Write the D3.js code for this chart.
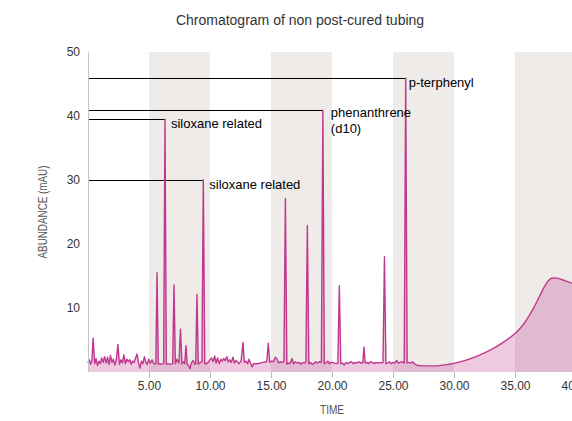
<!DOCTYPE html>
<html>
<head>
<meta charset="utf-8">
<script src="https://cdn.jsdelivr.net/npm/d3@7"></script>
<style>
  body { margin: 0; background: #fff; overflow: hidden; }
  text { font-family: "Liberation Sans", Arial, sans-serif; }
</style>
</head>
<body>
<script>
// retention time (min) and abundance (mAU)
const signal = [
  [0.00,1.4],[0.10,1.9],[0.22,1.2],[0.32,1.8],[0.42,5.3],[0.55,1.3],[0.66,2.1],[0.78,1.0],
  [0.90,1.7],[1.02,1.3],[1.12,2.2],[1.24,1.5],[1.36,2.4],[1.48,1.4],[1.60,2.3],[1.72,1.2],
  [1.84,2.6],[1.96,1.5],[2.08,2.0],[2.20,1.1],[2.32,1.9],[2.45,4.3],[2.58,1.2],[2.70,1.9],
  [2.82,1.4],[2.94,2.7],[3.06,1.3],[3.18,2.0],[3.30,1.6],[3.42,1.9],[3.54,1.2],[3.66,1.7],
  [3.78,1.5],[3.90,2.2],[4.02,2.8],[4.14,1.5],[4.26,0.6],[4.38,1.7],[4.50,1.3],[4.62,2.4],
  [4.74,1.5],[4.86,1.2],[4.98,2.0],[5.10,1.4],[5.25,1.9],[5.40,1.3],
  [5.56,1.3],[5.66,15.5],[5.76,1.2],[5.90,1.3],[6.05,1.2],[6.20,1.3],
  [6.31,39.5],[6.42,1.2],[6.55,1.3],[6.75,1.2],[6.94,1.3],
  [7.05,13.6],[7.16,1.3],[7.30,2.0],[7.46,1.4],
  [7.58,6.7],[7.70,1.3],[7.85,1.6],[7.93,1.3],
  [8.03,4.1],[8.13,1.2],[8.25,1.0],[8.35,0.5],[8.45,1.3],[8.62,1.8],[8.75,1.2],[8.83,1.3],
  [8.93,12.1],[9.04,1.2],[9.20,1.5],[9.34,1.6],
  [9.45,30.0],[9.57,1.3],[9.70,1.3],[9.85,1.5],
  [10.00,1.9],[10.12,2.2],[10.25,1.6],[10.38,2.5],[10.50,1.4],[10.62,2.2],[10.75,1.3],[10.88,2.0],
  [11.00,1.7],[11.12,2.1],[11.25,1.8],[11.38,2.4],[11.50,1.6],[11.62,1.9],[11.75,1.5],[11.88,2.3],
  [12.00,1.4],[12.12,1.8],[12.25,1.6],[12.38,1.3],[12.55,1.7],[12.70,4.6],[12.82,1.5],[12.95,1.7],
  [13.08,1.3],[13.20,2.0],[13.32,1.4],[13.45,0.8],[13.58,1.3],[13.75,1.3],[13.95,1.3],[14.15,1.4],
  [14.30,1.5],[14.65,1.6],[14.78,4.5],[14.90,1.5],[15.05,1.7],[15.20,1.6],[15.35,2.3],[15.50,2.0],
  [15.62,1.4],[15.75,1.6],[15.90,1.5],[16.06,1.6],
  [16.18,27.1],[16.30,1.2],[16.42,1.4],[16.55,1.3],[16.72,2.1],[16.85,1.3],[17.00,1.6],[17.15,1.4],
  [17.30,1.5],[17.45,1.2],[17.60,1.5],[17.75,1.4],[17.86,1.6],
  [17.98,22.9],[18.10,1.3],[18.22,1.5],[18.38,1.2],[18.52,1.3],[18.65,1.6],[18.80,1.4],[18.95,1.6],
  [19.13,1.5],[19.25,40.9],[19.37,1.3],[19.50,1.4],[19.65,1.7],[19.78,1.3],[19.90,1.5],[20.05,1.5],
  [20.20,1.4],[20.35,1.3],[20.48,1.4],
  [20.60,13.5],[20.72,1.3],[20.85,1.4],[21.00,1.1],[21.15,1.5],[21.30,1.3],[21.45,1.5],[21.60,1.6],
  [21.75,1.3],[21.90,1.5],[22.05,1.4],[22.20,1.6],[22.40,1.4],[22.52,1.4],
  [22.62,3.9],[22.72,1.4],[22.85,1.5],[23.00,1.3],[23.15,1.6],[23.30,1.5],[23.45,1.3],[23.60,1.5],
  [23.75,1.4],[23.90,1.5],[24.05,1.4],[24.18,1.5],
  [24.30,18.0],[24.42,1.3],[24.55,1.4],[24.70,1.6],[24.85,1.3],[25.00,1.5],[25.15,1.4],[25.30,1.8],
  [25.45,1.4],[25.60,1.5],[25.75,1.6],[25.92,1.4],
  [26.04,45.9],[26.16,1.4],[26.30,1.5],[26.45,1.4],[26.60,1.6],[26.75,1.3],[26.90,1.1]
];

// smooth column-bleed hump at the end of the run
const bleed = [
  [26.90,1.1],[27.20,1.0],[27.60,0.95],[28.20,0.95],[28.80,1.0],[29.40,1.15],[30.00,1.35],
  [31.00,1.85],[32.00,2.55],[33.00,3.45],[34.00,4.6],[35.00,6.0],[35.50,7.0],[36.00,8.3],
  [36.50,9.9],[37.00,11.8],[37.40,13.3],[37.70,14.2],[38.00,14.65],[38.30,14.7],
  [38.80,14.45],[39.40,14.05],[40.00,13.7]
];

const bandRanges = [[5, 10], [15, 20], [25, 30], [35, 40]];
const xTickValues = [5, 10, 15, 20, 25, 30, 35, 40];
const yTickValues = [10, 20, 30, 40, 50];

const peakNames = [
  { time: 6.31, value: 39.5, lines: ["siloxane related"] },
  { time: 9.45, value: 30.0, lines: ["siloxane related"] },
  { time: 19.25, value: 40.9, lines: ["phenanthrene", "(d10)"] },
  { time: 26.04, value: 45.9, lines: ["p-terphenyl"] }
];
// label nudges in px, same order as peakNames
const labelOffsets = [[6, 9], [6, 9], [8, 7], [3, 8.5]];

const width = 572;
const height = 421;
const lineColor = "#c0378e";

const svg = d3.select("body")
  .append("svg")
  .attr("width", width)
  .attr("height", height);

const x = d3.scaleLinear().domain([0, 40]).range([88, 576]);
const y = d3.scaleLinear().domain([0, 50]).range([372, 52]);

// shaded time windows
svg.append("g")
  .selectAll("rect")
  .data(bandRanges)
  .join("rect")
  .attr("x", d => x(d[0]))
  .attr("y", y(50))
  .attr("width", d => x(d[1]) - x(d[0]))
  .attr("height", y(0) - y(50))
  .attr("fill", "#efebe8");

const area = d3.area()
  .x(d => x(d[0]))
  .y0(y(0))
  .y1(d => y(d[1]));

const line = d3.line()
  .x(d => x(d[0]))
  .y(d => y(d[1]));

const smoothArea = d3.area()
  .curve(d3.curveMonotoneX)
  .x(d => x(d[0]))
  .y0(y(0))
  .y1(d => y(d[1]));

const smoothLine = d3.line()
  .curve(d3.curveMonotoneX)
  .x(d => x(d[0]))
  .y(d => y(d[1]));

const fills = svg.append("g")
  .attr("fill", lineColor)
  .attr("fill-opacity", 0.27);

fills.append("path").datum(signal).attr("d", area);
fills.append("path").datum(bleed).attr("d", smoothArea);

// leader lines from the axis to each named peak
svg.append("g")
  .selectAll("line")
  .data(peakNames)
  .join("line")
  .attr("x1", x(0))
  .attr("x2", d => x(d.time))
  .attr("y1", d => Math.round(y(d.value)) + 0.5)
  .attr("y2", d => Math.round(y(d.value)) + 0.5)
  .attr("stroke", "#000")
  .attr("stroke-width", 1);

const traces = svg.append("g")
  .attr("fill", "none")
  .attr("stroke", lineColor)
  .attr("stroke-width", 1.4)
  .attr("stroke-linejoin", "round");

traces.append("path").datum(signal).attr("d", line);
traces.append("path").datum(bleed).attr("d", smoothLine);

const labels = svg.append("g")
  .selectAll("text")
  .data(peakNames)
  .join("text")
  .attr("x", (d, i) => x(d.time) + labelOffsets[i][0])
  .attr("y", (d, i) => y(d.value) + labelOffsets[i][1])
  .style("font-size", "13px")
  .style("fill", "#000");

labels.selectAll("tspan")
  .data(d => d.lines)
  .join("tspan")
  .attr("x", function () { return this.parentNode.getAttribute("x"); })
  .attr("dy", (d, i) => i === 0 ? 0 : 16)
  .text(d => d);

// axes
const xAxis = svg.append("g")
  .attr("transform", `translate(0, ${y(0)})`)
  .call(d3.axisBottom(x)
    .tickValues(xTickValues)
    .tickSize(6)
    .tickFormat(d3.format(".2f")));
xAxis.select(".domain").remove();
xAxis.selectAll(".tick line").attr("stroke", "#bbb");
xAxis.selectAll(".tick text")
  .style("font-size", "12px")
  .style("fill", "#333");

const yAxis = svg.append("g")
  .attr("transform", `translate(${x(0)}, 0)`)
  .call(d3.axisLeft(y)
    .tickValues(yTickValues)
    .tickSize(0)
    .tickSizeOuter(0)
    .tickPadding(8));
yAxis.select(".domain").attr("stroke", "#c4c4c4");
yAxis.selectAll(".tick text")
  .style("font-size", "12px")
  .style("fill", "#333");

svg.append("text")
  .attr("x", 300)
  .attr("y", 25)
  .attr("text-anchor", "middle")
  .style("font-size", "14px")
  .style("fill", "#333")
  .text("Chromatogram of non post-cured tubing");

svg.append("text")
  .attr("x", x(20))
  .attr("y", 414)
  .attr("text-anchor", "middle")
  .attr("textLength", 24)
  .attr("lengthAdjust", "spacingAndGlyphs")
  .style("font-size", "12px")
  .style("fill", "#555")
  .text("TIME");

svg.append("text")
  .attr("transform", `translate(47, ${y(25)}) rotate(-90)`)
  .attr("text-anchor", "middle")
  .attr("textLength", 93)
  .attr("lengthAdjust", "spacingAndGlyphs")
  .style("font-size", "12px")
  .style("fill", "#555")
  .text("ABUNDANCE (mAU)");
</script>
</body>
</html>
